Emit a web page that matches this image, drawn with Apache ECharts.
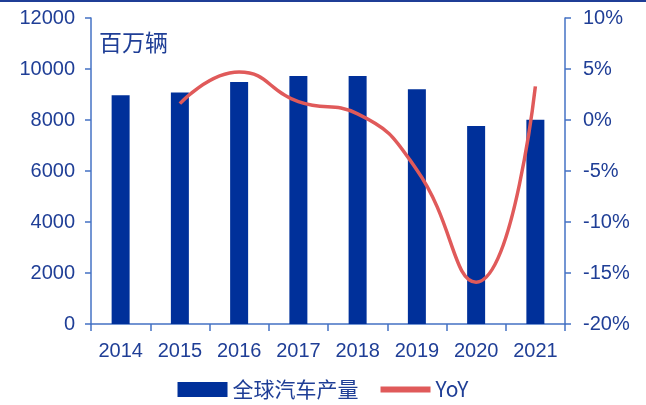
<!DOCTYPE html>
<html>
<head>
<meta charset="utf-8">
<script src="https://cdn.jsdelivr.net/npm/echarts@6/dist/echarts.min.js"></script>
<style>
html,body{margin:0;padding:0;background:#fff;}
#chart{width:646px;height:405px;}
</style>
</head>
<body>
<div id="chart"></div>
<script>
// Global vehicle production and year-on-year growth
const years = ['2014','2015','2016','2017','2018','2019','2020','2021'];
const production = [8970, 9080, 9490, 9730, 9730, 9210, 7760, 8010];
const yoy = [null, 1.6, 4.7, 1.8, 0.6, -4.9, -15.9, 3.3];
const leftTicks = [0, 12000, 2000];
const rightTicks = [-20, 10, 5];

const textColor = '#1F3E96';
const axisColor = '#4472C4';
const font = '"Liberation Sans", Arial, sans-serif';

const chart = echarts.init(document.getElementById('chart'));
chart.setOption({
  animation: false,
  grid: {left: 91, right: 81, top: 18, bottom: 81},
  graphic: [
    {type: 'rect', left: 0, top: 0, shape: {width: 646, height: 2}, style: {fill: '#1F3E96'}},
    {type: 'text', left: 99, top: 31, style: {text: '百万辆', fill: textColor, font: '23px "Noto Sans CJK SC", sans-serif'}}
  ],
  legend: {
    bottom: 0,
    left: 'center',
    itemGap: 22,
    textStyle: {color: textColor, fontSize: 21, fontFamily: '"Noto Sans CJK SC", ' + font},
    data: [
      {name: '全球汽车产量', icon: 'rect', itemStyle: {color: '#00309A'}},
      {name: 'YoY', icon: 'path://M0,0 L1,0 L1,0.12 L0,0.12 Z'}
    ],
    itemWidth: 50,
    itemHeight: 15
  },
  xAxis: {
    type: 'category',
    data: years,
    axisLine: {lineStyle: {color: axisColor, width: 1.5}},
    axisTick: {show: true, inside: false, length: 7, lineStyle: {color: axisColor, width: 1.5}},
    axisLabel: {color: textColor, fontSize: 20, fontFamily: font, margin: 17}
  },
  yAxis: [
    {
      type: 'value', min: leftTicks[0], max: leftTicks[1], interval: leftTicks[2],
      axisLine: {show: true, lineStyle: {color: axisColor, width: 1.5}},
      axisTick: {show: true, length: 6, lineStyle: {color: axisColor, width: 1.5}},
      splitLine: {show: false},
      axisLabel: {color: textColor, fontSize: 20, fontFamily: font, margin: 16, formatter: v => String(v)}
    },
    {
      type: 'value', min: rightTicks[0], max: rightTicks[1], interval: rightTicks[2],
      axisLine: {show: true, lineStyle: {color: axisColor, width: 1.5}},
      axisTick: {show: true, length: 6, lineStyle: {color: axisColor, width: 1.5}},
      splitLine: {show: false},
      axisLabel: {color: textColor, fontSize: 20, fontFamily: font, margin: 18, formatter: '{value}%'}
    }
  ],
  series: [
    {
      name: '全球汽车产量', type: 'bar', data: production, barWidth: 18,
      itemStyle: {color: '#00309A'}
    },
    {
      name: 'YoY', type: 'line', yAxisIndex: 1, data: yoy, smooth: 0.5,
      symbol: 'none', connectNulls: false,
      lineStyle: {color: '#E05A5A', width: 3.5},
      itemStyle: {color: '#E05A5A'}
    }
  ]
});
</script>
</body>
</html>
